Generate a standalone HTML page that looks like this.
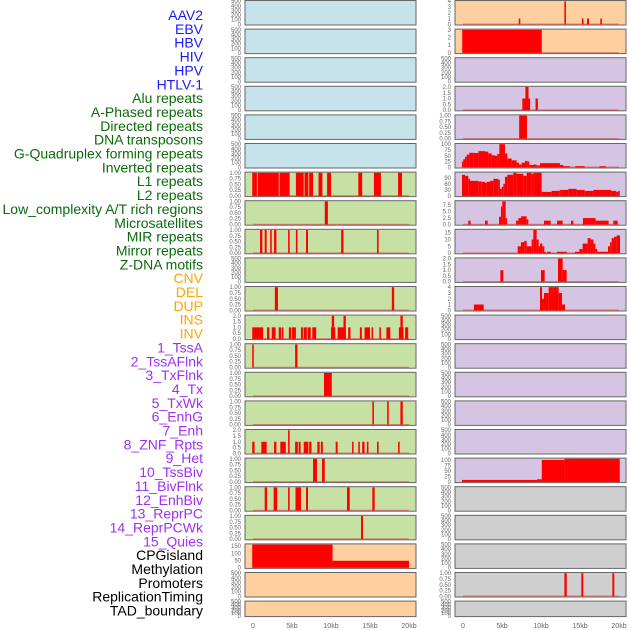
<!DOCTYPE html>
<html><head><meta charset="utf-8"><style>
html,body{margin:0;padding:0;background:#fff;width:630px;height:630px;overflow:hidden}
svg{display:block;font-family:"Liberation Sans",sans-serif}
</style></head><body>
<svg id="c" width="630" height="630"></svg>
<script>
// ---- data ----
const trackLabels = ["AAV2","EBV","HBV","HIV","HPV","HTLV-1","Alu repeats","A-Phased repeats","Directed repeats","DNA transposons","G-Quadruplex forming repeats","Inverted repeats","L1 repeats","L2 repeats","Low_complexity A/T rich regions","Microsatellites","MIR repeats","Mirror repeats","Z-DNA motifs","CNV","DEL","DUP","INS","INV","1_TssA","2_TssAFlnk","3_TxFlnk","4_Tx","5_TxWk","6_EnhG","7_Enh","8_ZNF_Rpts","9_Het","10_TssBiv","11_BivFlnk","12_EnhBiv","13_ReprPC","14_ReprPCWk","15_Quies","CPGisland","Methylation","Promoters","ReplicationTiming","TAD_boundary"];
const labelGroups = [0,0,0,0,0,0,1,1,1,1,1,1,1,1,1,1,1,1,1,2,2,2,2,2,3,3,3,3,3,3,3,3,3,3,3,3,3,3,3,4,4,4,4,4];
const xTickValues = [0,5,10,15,20];
const xTickLabels = ["0","5kb","10kb","15kb","20kb"];
const ticksEmpty = ["0","100","200","300","400","500"];
const ticksOne = ["0.00","0.25","0.50","0.75","1.00"];
const ticksTwo = ["0.0","0.5","1.0","1.5","2.0"];

// left column segments [startKb, endKb, value]
const segL6 = [[-0.1,0.5,1],[0.6,3.3,1],[3.4,4.7,1],[5.5,6.5,1],[6.6,7.1,1],[7.2,7.7,1],[8.4,8.9,1],[9.5,10,1],[13.5,14,1],[15.5,16.4,1],[18.6,19.1,1]];
const segL7 = [[9.2,9.6,1]];
const segL8 = [[0.9,1.2,1],[1.5,1.75,1],[2.2,2.4,1],[2.7,3.0,1],[4.5,4.7,1],[5.5,5.7,1],[6.8,7.05,1],[11.3,11.6,1],[15.9,16.1,1]];
const segL10 = [[2.8,3.2,1],[17.8,18.1,1]];
const segL11 = [[-0.1,1.3,1],[1.8,2.1,1],[2.4,2.9,1],[3.3,3.6,1],[3.7,3.9,1],[4.6,4.9,1],[5.0,5.5,1],[6.15,6.4,1],[6.5,6.9,1],[7.0,7.4,1],[7.6,8.1,1],[10.0,10.55,1],[10.1,10.4,2],[10.85,11.9,1],[11.6,11.9,2],[12.2,12.5,1],[13.7,13.95,1],[14.3,15.0,1],[15.2,15.4,1],[16.2,16.4,1],[17.1,17.6,1],[18.7,19.3,1],[18.9,19.2,2],[19.5,19.9,1]];
const segL12 = [[-0.1,0.1,1],[5.4,5.7,1]];
const segL13 = [[9.1,10.1,1]];
const segL14 = [[15.3,15.5,1],[17.2,17.4,1],[18.9,19.2,1]];
const segL15 = [[-0.1,0.2,1],[1.07,1.75,1],[2.7,3.0,1],[3.5,4.2,1],[4.5,4.7,2],[5.4,5.75,1],[5.85,6.1,1],[6.5,7.1,1],[7.2,7.5,1],[8.25,8.55,1],[8.7,8.95,1],[10.6,10.85,1],[12.7,12.9,1],[13.5,13.7,1],[14.0,14.3,1],[14.6,14.8,1],[15.9,16.1,1],[18.6,18.8,1]];
const segL16 = [[7.7,8.2,1],[8.85,9.2,1]];
const segL17 = [[1.5,1.8,1],[2.65,3.1,1],[4.5,4.7,1],[5.45,6.15,1],[6.8,7.05,1],[12.05,12.4,1],[15.3,15.6,1]];
const segL18 = [[13.85,14.1,1]];
const segL19 = [[-0.1,10.2,160],[10.2,20.0,48]];

// right column segments
const segR0 = [[7.15,7.35,1],[13.0,13.2,4],[15.25,15.45,1],[15.9,16.15,1],[17.6,17.8,1]];
const segR1 = [[-0.1,10.1,3]];
const segR3 = [[7.6,8.6,1],[8.0,8.4,2],[9.3,9.6,1]];
const segR4 = [[7.2,8.2,1]];
const segR5 = [[-0.13,0.04,25],[0.04,0.26,35],[0.26,0.47,45],[0.47,0.81,55],[0.81,1.33,63],[1.33,1.97,62],[1.97,2.82,70],[2.82,3.25,68],[3.25,3.68,60],[3.68,4.1,52],[4.1,4.4,50],[4.4,4.66,58],[4.66,5.38,100],[5.38,5.68,60],[5.68,6.24,38],[6.24,6.88,30],[6.88,7.18,20],[7.18,7.52,12],[7.52,7.95,20],[7.95,8.25,28],[8.25,8.5,25],[8.5,9.02,10],[9.02,9.44,12],[9.44,9.87,8],[9.87,12.43,18],[12.43,12.86,10],[12.86,13.7,5],[14.4,15.6,5],[17.5,18.3,5]];
const segR6 = [[-0.13,0.26,105],[0.26,0.68,100],[0.68,0.9,85],[0.9,1.97,75],[1.97,2.4,72],[2.4,2.82,70],[2.82,3.03,65],[3.03,3.46,70],[3.46,3.89,75],[3.89,4.53,85],[4.53,4.74,80],[4.74,4.96,35],[4.96,5.17,45],[5.17,5.38,60],[5.38,5.68,95],[5.68,6.45,105],[6.45,6.88,115],[6.88,7.74,110],[7.74,8.16,100],[8.16,8.8,115],[8.8,9.02,110],[9.02,10.08,115],[10.08,10.7,20],[10.7,11.37,20],[11.37,12.4,25],[12.4,12.65,30],[12.65,13.5,30],[13.5,14.57,35],[14.57,15.6,30],[15.6,16.7,25],[16.7,19.0,30],[19.0,19.66,25],[19.66,19.9,20],[19.9,20.1,25]];
const segR7 = [[0.68,0.98,1.5],[2.82,3.16,1.5],[4.62,4.87,3],[4.87,5.04,7],[5.04,5.47,9],[5.47,5.64,2.5],[6.8,7.1,1.5],[7.1,7.43,2.5],[7.43,8.16,3.2],[8.16,8.38,2],[10.38,11.24,1.5],[12.05,12.78,1.5],[13.85,14.15,1.5],[15.38,17.0,2.5],[17.0,18.67,1.5],[19.27,19.83,1.5]];
const segR8 = [[7.01,7.43,5],[7.43,7.86,8],[7.86,8.16,9],[8.16,8.8,5],[8.8,9.02,10],[9.02,9.44,17],[9.44,9.7,10],[9.7,9.87,5],[9.87,10.17,7],[10.17,10.43,5],[10.43,10.6,1],[10.77,11.24,1],[12.05,13.29,1],[14.36,14.91,1],[14.91,15.34,3],[15.34,15.98,7],[15.98,16.37,11],[16.37,16.71,10],[16.71,16.97,7],[16.97,17.22,3],[17.22,18.59,1],[18.59,18.85,5],[18.85,19.06,8],[19.06,19.36,11],[19.36,19.7,12],[19.7,20.13,13]];
const segR9 = [[4.79,5.17,1],[10.0,10.47,1],[12.18,12.78,2],[12.78,13.29,1]];
const segR10 = [[1.41,2.65,1],[9.87,10.13,4],[10.13,10.38,2],[10.38,10.98,3],[10.98,12.26,4],[12.26,12.69,3],[12.69,13.08,1]];
const segR16 = [[-0.13,9.5,9],[9.5,10.1,12],[10.1,13.0,100],[13.0,20.1,105]];
const segR20 = [[13.0,13.3,1],[15.17,15.42,1],[19.15,19.4,1]];

// panel definitions: [segments, yMax(top tick), tickLabels, dataMax]
const leftPanels = [null,null,null,null,null,null,
 [segL6,1,ticksOne],[segL7,1,ticksOne],[segL8,1,ticksOne],null,[segL10,1,ticksOne],[segL11,2,ticksTwo],
 [segL12,1,ticksOne],[segL13,1,ticksOne],[segL14,1,ticksOne],[segL15,2,ticksTwo],[segL16,1,ticksOne],[segL17,1,ticksOne],[segL18,1,ticksOne],
 [segL19,150,["0","50","100","150"],160],null,null];
const rightPanels = [[segR0,4,["0","1","2","3","4"]],[segR1,3,["0","1","2","3"]],null,[segR3,2,ticksTwo],[segR4,1,ticksOne],
 [segR5,100,["0","25","50","75","100"]],[segR6,90,["0","30","60","90"],115],[segR7,7.5,["0.0","2.5","5.0","7.5"],9],
 [segR8,15,["0","5","10","15"],17],[segR9,2,ticksTwo],[segR10,4,["0","1","2","3","4"]],null,null,null,null,null,
 [segR16,100,["0","25","50","75","100"],105],null,null,null,[segR20,1,ticksOne],null];
const leftBg = ["b","b","b","b","b","b","g","g","g","g","g","g","g","g","g","g","g","g","g","o","o","o"];
const rightBg = ["o","o","p","p","p","p","p","p","p","p","p","p","p","p","p","p","p","x","x","x","x","x"];

// ---- drawing ----
const NS="http://www.w3.org/2000/svg";
const svg=document.getElementById('c');
const colors={b:"#c6e3ec",g:"#c7e1a5",o:"#fecf9f",p:"#d5c5e2",x:"#cfcfcf"};
const labelColors=["#1a1aff","#0b6b0b","#ffa500","#a030f0","#000000"];
function mk(t,a,p){const e=document.createElementNS(NS,t);for(const k in a)e.setAttribute(k,a[k]);(p||svg).appendChild(e);return e;}

trackLabels.forEach((s,i)=>{
  const t=mk('text',{x:203,y:20+i*13.85,'text-anchor':'end','font-size':14,fill:labelColors[labelGroups[i]]});
  t.textContent=s;
  
  
});

function panel(col,row,def,bg){
  const px=col?455:245, pw=171;
  const top=row*28.6+0.5, h=row===21?15.5:24.5;
  const g=mk('g',{});
  
  
  const r=mk('rect',{x:px,y:top,width:pw,height:h,fill:colors[bg],stroke:'#666','stroke-width':1},g);
  
  
  const x0=px+8;
  const xs=kb=>x0+kb*7.8;
  let ticks,yTop,dmax;
  if(def){ticks=def[2];yTop=def[1];dmax=def[3]||yTop;}else{ticks=ticksEmpty;yTop=500;dmax=500;}
  const lo=-0.03*dmax, hi=dmax*1.03;
  const ys=v=>top+h-(v-lo)/(hi-lo)*h;
  const cid='clip'+col+'_'+row;
  const cp=mk('clipPath',{id:cid},g);mk('rect',{x:px,y:top,width:pw,height:h},cp);
  ticks.forEach((tl,k)=>{
    const v=yTop*k/(ticks.length-1);
    const t=mk('text',{x:px-4,y:ys(v)+2,'text-anchor':'end','font-size':6,fill:'#666'},g);
    t.textContent=tl;
    
    
  });
  if(def){
    const cg=mk('g',{'clip-path':'url(#'+cid+')'},g);
    const bl=mk('line',{x1:xs(0),x2:xs(20.0),y1:ys(0),y2:ys(0),stroke:'rgba(210,70,70,0.6)','stroke-width':1.5},cg);
    
    
    def[0].forEach(s=>{
      const y1=ys(s[2]),y0=ys(0);
      const b=mk('rect',{x:xs(s[0]),y:y1,width:Math.max(1,xs(s[1])-xs(s[0])),height:y0-y1,fill:'#ff0000'},cg);
      
      
    });
  }
  if(row===21){
    xTickValues.forEach((v,k)=>{
      const t=mk('text',{x:xs(v),y:628,'text-anchor':'middle','font-size':7,fill:'#666'},g);
      t.textContent=xTickLabels[k];
      
      
    });
  }
}
for(let i=0;i<22;i++){panel(0,i,leftPanels[i],leftBg[i]);panel(1,i,rightPanels[i],rightBg[i]);}
</script>
</body></html>
